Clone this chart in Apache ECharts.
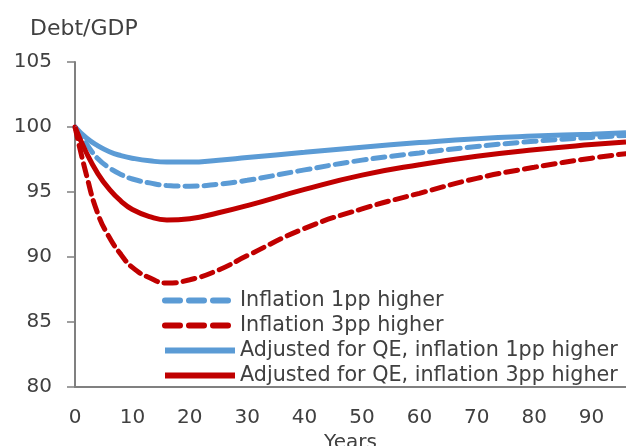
<!DOCTYPE html>
<html>
<head>
<meta charset="utf-8">
<script src="https://cdn.jsdelivr.net/npm/echarts@6/dist/echarts.min.js"></script>
<style>
  html, body { margin: 0; padding: 0; background: #fff; }
  #chart { width: 626px; height: 446px; }
</style>
</head>
<body>
<div id="chart"></div>
<script>
// years since the shock
var years = [0, 2, 4, 6, 8, 10, 13, 16, 20, 25, 30, 40, 50, 60, 70, 80, 90, 96]

// debt/GDP paths
var infl1 = [100, 98.7, 97.55, 96.85, 96.35, 96.0, 95.7, 95.5, 95.45, 95.6, 95.9, 96.7, 97.45, 98.0, 98.5, 98.9, 99.2, 99.35]
var infl3 = [100, 96.3, 93.3, 91.5, 90.2, 89.2, 88.4, 88.0, 88.25, 89.0, 90.1, 92.2, 93.7, 94.9, 96.05, 96.9, 97.6, 97.95]
var qe1 = [100, 99.15, 98.55, 98.1, 97.8, 97.6, 97.4, 97.3, 97.3, 97.45, 97.65, 98.05, 98.45, 98.8, 99.1, 99.3, 99.45, 99.55]
var qe3 = [100, 98.0, 96.4, 95.2, 94.3, 93.65, 93.1, 92.85, 92.95, 93.4, 93.95, 95.2, 96.3, 97.1, 97.75, 98.25, 98.65, 98.85]

var names = [
  'Inflation 1pp higher',
  'Inflation 3pp higher',
  'Adjusted for QE, inflation 1pp higher',
  'Adjusted for QE, inflation 3pp higher'
]

var BLUE = '#5B9BD5'
var RED = '#C00000'
var TXT = '#404040'
var FONT = 'DejaVu Sans'

function pairs(vals) {
  var out = []
  for (var i = 0; i < years.length; i++) {
    out.push([years[i], vals[i]])
  }
  return out
}

function mkSeries(name, vals, color, dashed) {
  return {
    name: name,
    type: 'line',
    smooth: true,
    symbol: 'none',
    data: pairs(vals),
    itemStyle: { color: color },
    lineStyle: {
      color: color,
      width: 5,
      type: dashed ? [12, 7] : 'solid',
      cap: dashed ? 'round' : 'butt'
    }
  }
}

// legend entries, dashed ones get longer dashes like the original key
var legendData = names.map(function (n, i) {
  var item = { name: n }
  if (i < 2) {
    item.lineStyle = { type: [15, 9], cap: 'round', width: 6 }
  } else {
    item.lineStyle = { width: 6 }
  }
  return item
})

var option = {
  backgroundColor: '#fff',
  animation: false,
  title: {
    text: 'Debt/GDP',
    left: 25,
    top: 13,
    textStyle: { fontFamily: FONT, fontSize: 22, fontWeight: 'normal', color: TXT }
  },
  legend: {
    orient: 'vertical',
    left: 157,
    top: 285,
    itemWidth: 70,
    itemHeight: 8,
    itemGap: 4,
    data: legendData,
    itemStyle: { opacity: 0 },
    textStyle: { fontFamily: FONT, fontSize: 20.7, color: TXT, padding: [0, 0, 0, 0] }
  },
  grid: {
    left: 75,
    top: 62,
    right: 0,
    bottom: 59,
    outerBoundsMode: 'none'
  },
  xAxis: {
    type: 'value',
    min: 0,
    max: 96,
    interval: 10,
    name: 'Years',
    nameLocation: 'middle',
    nameGap: 37,
    nameTextStyle: { fontFamily: FONT, fontSize: 20, color: TXT },
    axisLine: { lineStyle: { color: '#808080', width: 2 } },
    axisTick: { show: false },
    splitLine: { show: false },
    axisLabel: {
      showMaxLabel: false,
      margin: 21,
      fontFamily: FONT,
      fontSize: 20,
      color: TXT
    }
  },
  yAxis: {
    type: 'value',
    min: 80,
    max: 105,
    interval: 5,
    axisLine: { show: true, lineStyle: { color: '#808080', width: 2 } },
    axisTick: { show: true, length: 8, lineStyle: { color: '#808080', width: 1.5 } },
    splitLine: { show: false },
    axisLabel: {
      margin: 23,
      fontFamily: FONT,
      fontSize: 20,
      color: TXT
    }
  },
  series: [
    mkSeries(names[0], infl1, BLUE, true),
    mkSeries(names[1], infl3, RED, true),
    mkSeries(names[2], qe1, BLUE, false),
    mkSeries(names[3], qe3, RED, false)
  ]
}

var myChart = echarts.init(document.getElementById('chart'), null, { renderer: 'canvas' })
myChart.setOption(option)
</script>
</body>
</html>
